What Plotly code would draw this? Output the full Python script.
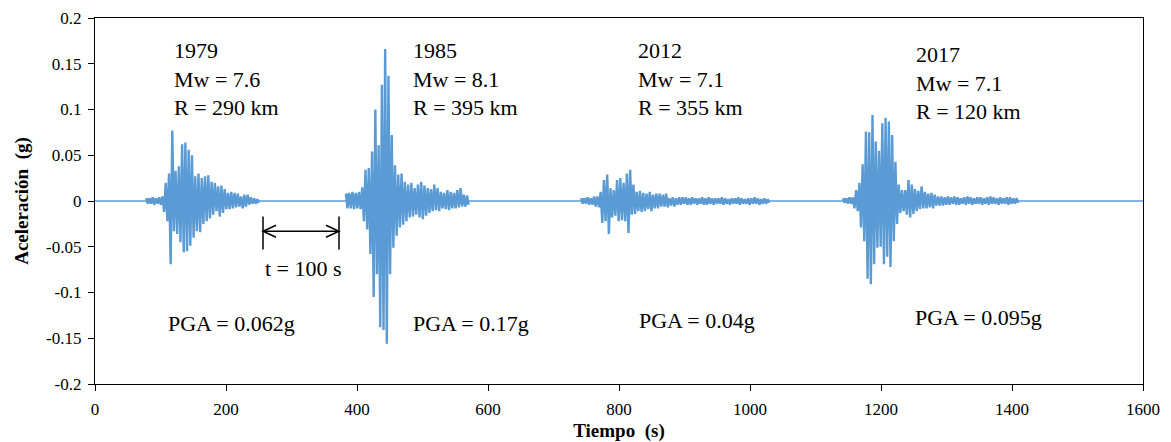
import plotly.graph_objects as go

# Acelerogramas (g), picos leidos cada 5 s: positivos en t, negativos en t + 2.5 s
STEP = 5.0

t0_1979 = 78
up_1979 = [0.003, 0.003, 0.004, 0.003, 0.004, 0.005, 0.020, 0.030, 0.077, 0.033, 0.038, 0.062,
           0.064, 0.056, 0.050, 0.027, 0.030, 0.025, 0.027, 0.028, 0.021, 0.020, 0.016, 0.017,
           0.013, 0.009, 0.010, 0.009, 0.008, 0.005, 0.007, 0.007, 0.004, 0.003, 0.002]
low_1979 = [-0.003, -0.003, -0.004, -0.003, -0.004, -0.012, -0.022, -0.069, -0.033, -0.036,
            -0.045, -0.056, -0.055, -0.049, -0.040, -0.033, -0.034, -0.025, -0.022, -0.019,
            -0.015, -0.011, -0.017, -0.013, -0.009, -0.009, -0.008, -0.007, -0.006, -0.008,
            -0.006, -0.004, -0.003, -0.003, -0.002]

t0_1985 = 383
up_1985 = [0.008, 0.009, 0.010, 0.009, 0.010, 0.015, 0.034, 0.036, 0.054, 0.100, 0.061, 0.127,
           0.166, 0.137, 0.072, 0.039, 0.029, 0.030, 0.021, 0.018, 0.020, 0.014, 0.018, 0.021,
           0.017, 0.014, 0.013, 0.018, 0.014, 0.010, 0.009, 0.012, 0.010, 0.009, 0.012, 0.014,
           0.007, 0.006]
low_1985 = [-0.008, -0.008, -0.009, -0.008, -0.009, -0.022, -0.031, -0.058, -0.105, -0.080,
            -0.138, -0.141, -0.156, -0.080, -0.051, -0.038, -0.029, -0.026, -0.022, -0.018,
            -0.017, -0.015, -0.018, -0.020, -0.016, -0.013, -0.011, -0.010, -0.011, -0.008,
            -0.009, -0.010, -0.008, -0.008, -0.007, -0.006, -0.006, -0.004]

t0_2012 = 742
up_2012 = [0.003, 0.003, 0.004, 0.003, 0.005, 0.005, 0.010, 0.023, 0.029, 0.014, 0.012, 0.023,
           0.025, 0.020, 0.030, 0.034, 0.018, 0.010, 0.011, 0.009, 0.008, 0.010, 0.007, 0.008,
           0.008, 0.007, 0.008, 0.003, 0.004, 0.003, 0.004, 0.004, 0.004,
           0.003, 0.004, 0.003, 0.003, 0.004, 0.003, 0.004, 0.003, 0.003, 0.003, 0.004, 0.003,
           0.002, 0.003, 0.003, 0.004, 0.003, 0.002, 0.003, 0.003, 0.004, 0.003, 0.002, 0.003,
           0.002]
low_2012 = [-0.003, -0.003, -0.004, -0.004, -0.006, -0.007, -0.024, -0.022, -0.036, -0.018,
            -0.016, -0.022, -0.021, -0.022, -0.035, -0.015, -0.014, -0.011, -0.012, -0.011,
            -0.009, -0.011, -0.008, -0.008, -0.006, -0.006, -0.007, -0.005, -0.006, -0.004,
            -0.004, -0.003, -0.004, -0.004, -0.003, -0.004, -0.003, -0.004, -0.004, -0.003,
            -0.004, -0.003, -0.003, -0.004, -0.003, -0.004, -0.003, -0.003, -0.004, -0.003,
            -0.003, -0.004, -0.003, -0.003, -0.004, -0.003, -0.003, -0.002]

t0_2017 = 1142
up_2017 = [0.003, 0.003, 0.004, 0.004, 0.012, 0.020, 0.040, 0.076, 0.075, 0.094, 0.065, 0.055,
           0.085, 0.091, 0.087, 0.072, 0.043, 0.018, 0.012, 0.012, 0.023, 0.018, 0.013, 0.011,
           0.016, 0.010, 0.008, 0.009, 0.007, 0.005, 0.005, 0.004, 0.005,
           0.004, 0.005, 0.004, 0.003, 0.004, 0.005, 0.004, 0.003, 0.004, 0.004, 0.003, 0.004,
           0.005, 0.004, 0.003, 0.004, 0.003, 0.004, 0.004, 0.003, 0.003]
low_2017 = [-0.002, -0.003, -0.003, -0.008, -0.011, -0.029, -0.044, -0.085, -0.091, -0.069,
            -0.051, -0.050, -0.069, -0.061, -0.072, -0.044, -0.025, -0.013, -0.011, -0.015,
            -0.018, -0.014, -0.011, -0.009, -0.008, -0.008, -0.007, -0.008, -0.005, -0.005,
            -0.005, -0.004,
            -0.004, -0.003, -0.004, -0.004, -0.003, -0.004, -0.003, -0.004, -0.003, -0.003,
            -0.004, -0.003, -0.004, -0.003, -0.003, -0.004, -0.003, -0.003, -0.004, -0.003,
            -0.003, -0.002]

events = [
    (t0_1979, up_1979, low_1979),
    (t0_1985, up_1985, low_1985),
    (t0_2012, up_2012, low_2012),
    (t0_2017, up_2017, low_2017),
]

labels_top = ["1979<br>Mw = 7.6<br>R = 290 km",
              "1985<br>Mw = 8.1<br>R = 395 km",
              "2012<br>Mw = 7.1<br>R = 355 km",
              "2017<br>Mw = 7.1<br>R = 120 km"]
labels_pga = ["PGA = 0.062g", "PGA = 0.17g", "PGA = 0.04g", "PGA = 0.095g"]

T_END = 1600
y_ticks = [0.2, 0.15, 0.1, 0.05, 0, -0.05, -0.1, -0.15, -0.2]
y_text = ["0.2", "0.15", "0.1", "0.05", "0", "-0.05", "-0.1", "-0.15", "-0.2"]

FONT = "Liberation Serif, Times New Roman, serif"
BLUE = "#5B9BD5"

fig = go.Figure()

# record at rest between events
fig.add_trace(go.Scatter(x=[0, T_END], y=[0, 0], mode="lines",
                         line=dict(color=BLUE, width=1.5),
                         hoverinfo="skip", showlegend=False))

# each event: alternating peaks, filled to the zero line so the core reads solid
for t0, up, low in events:
    tt, aa = [], []
    for i, (u, l) in enumerate(zip(up, low)):
        tt += [t0 + i * STEP, t0 + i * STEP + STEP / 2]
        aa += [u, l]
    fig.add_trace(go.Scatter(x=tt, y=aa, mode="lines", fill="toself", fillcolor=BLUE,
                             line=dict(color=BLUE, width=2.4),
                             hoverinfo="skip", showlegend=False))

# text labels
top_pos = [(117, 0.180), (482, 0.180), (826, 0.180), (1250, 0.176)]
pga_pos = [(108, -0.134), (482, -0.134), (827, -0.131), (1249, -0.127)]
for (x, y), txt in zip(top_pos, labels_top):
    fig.add_annotation(x=x, y=y, text=txt, showarrow=False, xanchor="left", yanchor="top",
                       align="left", font=dict(family=FONT, size=22, color="black"))
for (x, y), txt in zip(pga_pos, labels_pga):
    fig.add_annotation(x=x, y=y, text=txt, showarrow=False, xanchor="left", yanchor="middle",
                       font=dict(family=FONT, size=22, color="black"))

# t = 100 s scale marker
bar_l, bar_r = 256.5, 372.5
fig.add_shape(type="line", x0=bar_l, x1=bar_l, y0=-0.017, y1=-0.053, line=dict(color="black", width=1.5))
fig.add_shape(type="line", x0=bar_r, x1=bar_r, y0=-0.017, y1=-0.053, line=dict(color="black", width=1.5))
fig.add_shape(type="line", x0=bar_l, x1=bar_r, y0=-0.033, y1=-0.033, line=dict(color="black", width=1.5))
fig.add_shape(type="path", xsizemode="pixel", ysizemode="pixel", xanchor=bar_l, yanchor=-0.033,
              path="M 13,6 L 0,0 L 13,-6", line=dict(color="black", width=1.5))
fig.add_shape(type="path", xsizemode="pixel", ysizemode="pixel", xanchor=bar_r, yanchor=-0.033,
              path="M -13,6 L 0,0 L -13,-6", line=dict(color="black", width=1.5))
fig.add_annotation(x=318, y=-0.074, text="t = 100 s", showarrow=False,
                   font=dict(family=FONT, size=22, color="black"))

axis_common = dict(showline=True, linecolor="black", linewidth=1.3, mirror=True,
                   ticks="outside", ticklen=6, tickcolor="black", showgrid=False, zeroline=False,
                   automargin=False, ticklabelstandoff=3, ticklabeloverflow="allow",
                   tickfont=dict(family=FONT, size=17, color="black"))

# page body has an 8 px margin, so the figure is drawn 8 px smaller and offset
fig.update_layout(
    width=1163, height=434,
    margin=dict(l=87, r=28, t=10, b=58),
    plot_bgcolor="white", paper_bgcolor="white",
    xaxis=dict(range=[0, T_END], dtick=200, tick0=0,
               title=dict(text="<b>Tiempo\u00a0 (s)</b>", standoff=8,
                          font=dict(family=FONT, size=19, color="black")),
               **axis_common),
    yaxis=dict(range=[-0.2, 0.2], tickvals=y_ticks, ticktext=y_text,
               title=dict(text="<b>Aceleración\u00a0 (g)</b>", standoff=12,
                          font=dict(family=FONT, size=19, color="black")),
               **axis_common),
)

fig.write_html("out.html")
